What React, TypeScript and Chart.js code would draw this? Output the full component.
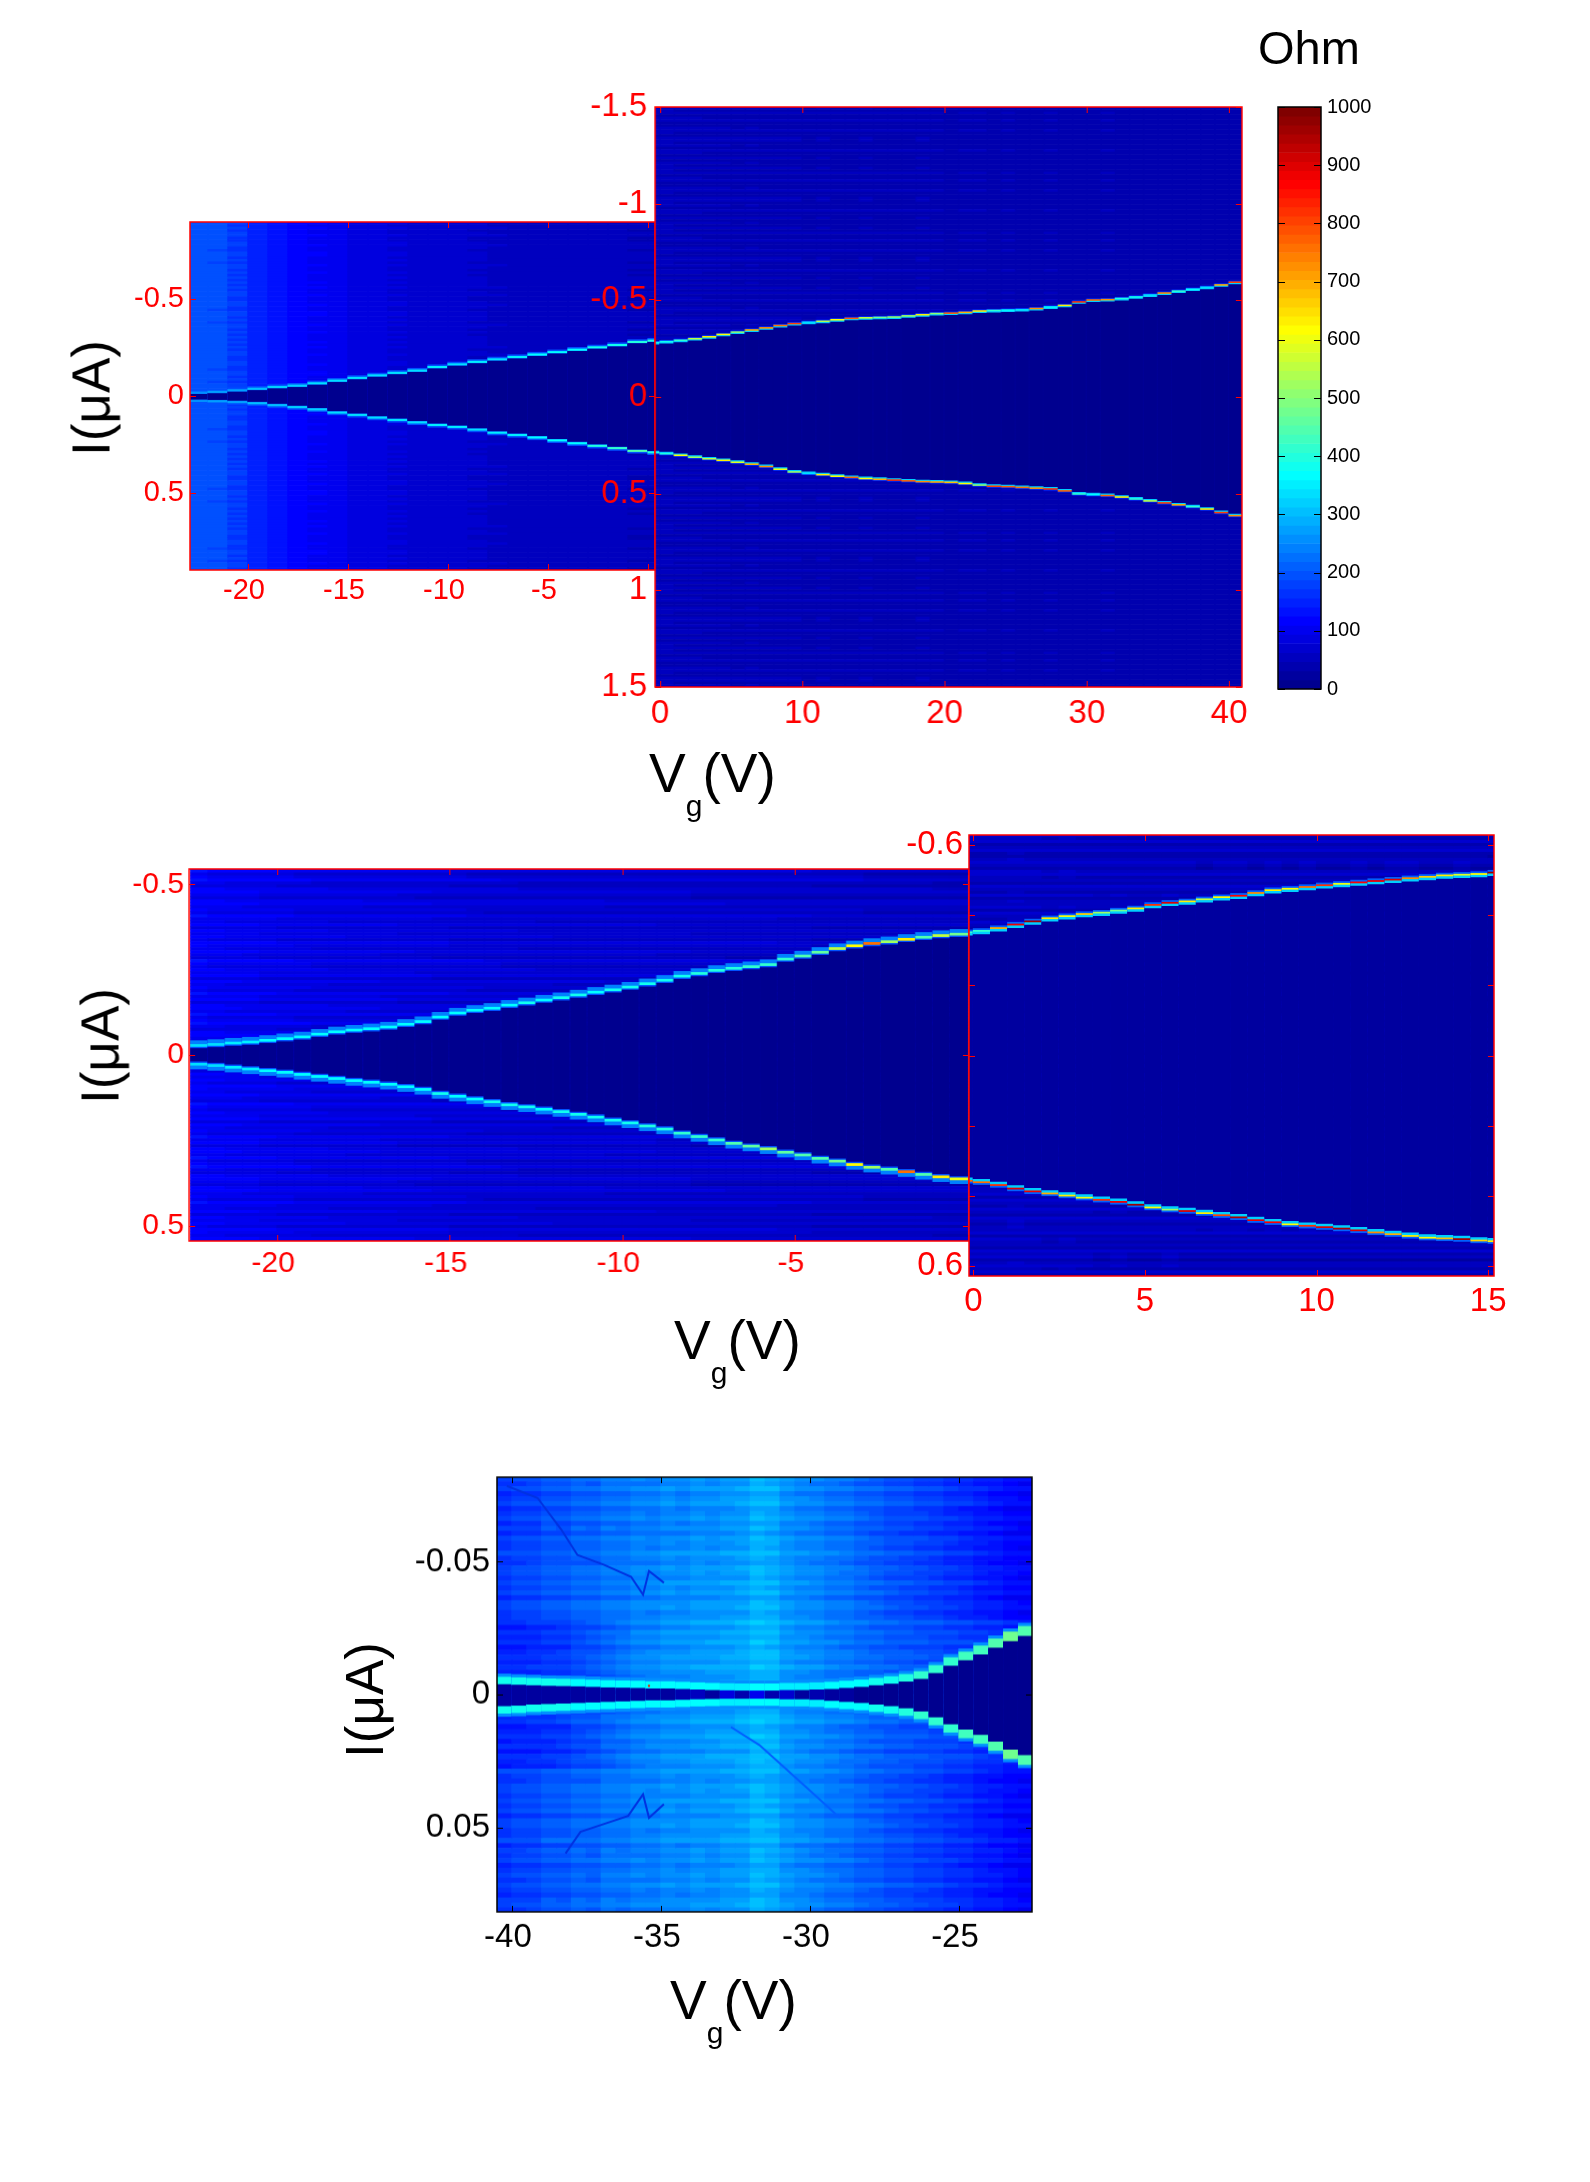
import React, { useEffect, useRef } from "react";
import { Chart, registerables } from "chart.js";

Chart.register(...registerables);

const FONT = "'Liberation Sans', Arial, sans-serif";

// ---- top row, left part (Vg < 0)
const p1aCenters = [-22.5, -21.5, -20.5, -19.5, -18.5, -17.5, -16.5, -15.5, -14.5, -13.5, -12.5, -11.5, -10.5, -9.5, -8.5, -7.5, -6.5, -5.5, -4.5, -3.5, -2.5, -1.5, -0.5, 0.5];
const p1aUpper = [0.016, 0.02, 0.028, 0.036, 0.045, 0.052, 0.064, 0.078, 0.092, 0.105, 0.118, 0.13, 0.148, 0.162, 0.175, 0.188, 0.2, 0.213, 0.225, 0.238, 0.25, 0.262, 0.278, 0.285];
const p1aLower = [0.024, 0.026, 0.03, 0.036, 0.046, 0.056, 0.068, 0.084, 0.096, 0.11, 0.122, 0.135, 0.148, 0.158, 0.172, 0.188, 0.2, 0.213, 0.228, 0.243, 0.256, 0.268, 0.282, 0.29];
const p1aFar = [195, 190, 172, 150, 130, 118, 108, 98, 90, 84, 78, 74, 70, 66, 64, 60, 58, 56, 54, 52, 50, 50, 48, 48];
const p1aPeakUp = [260, 270, 280, 300, 320, 320, 330, 330, 340, 330, 340, 340, 350, 340, 350, 340, 350, 360, 360, 370, 380, 380, 400, 400];
const p1aPeakLow = [260, 270, 280, 300, 300, 320, 320, 330, 330, 340, 340, 340, 350, 350, 340, 350, 350, 360, 360, 370, 400, 420, 450, 400];
const p1Shade = [2, -1, 3, -2, 0, 3, -2, -2, 1, 3, -1, -3, 2, 2, -1, 1, -3, 3, 0, -2, 2, -2, 1, -1];

// ---- top row, right part (Vg > 0)
const p1bCenters = [-0.5, 0.5, 1.5, 2.5, 3.5, 4.5, 5.5, 6.5, 7.5, 8.5, 9.5, 10.5, 11.5, 12.5, 13.5, 14.5, 15.5, 16.5, 17.5, 18.5, 19.5, 20.5, 21.5, 22.5, 23.5, 24.5, 25.5, 26.5, 27.5, 28.5, 29.5, 30.5, 31.5, 32.5, 33.5, 34.5, 35.5, 36.5, 37.5, 38.5, 39.5, 40.5];
const p1bUpper = [0.28, 0.285, 0.292, 0.3, 0.31, 0.322, 0.334, 0.345, 0.356, 0.368, 0.378, 0.385, 0.39, 0.398, 0.405, 0.408, 0.41, 0.412, 0.418, 0.424, 0.43, 0.432, 0.436, 0.443, 0.446, 0.448, 0.45, 0.456, 0.464, 0.472, 0.49, 0.5, 0.502, 0.508, 0.516, 0.526, 0.536, 0.546, 0.556, 0.566, 0.578, 0.592];
const p1bLower = [0.286, 0.292, 0.3, 0.31, 0.318, 0.326, 0.336, 0.346, 0.358, 0.372, 0.386, 0.394, 0.4, 0.408, 0.414, 0.42, 0.424, 0.428, 0.432, 0.436, 0.438, 0.44, 0.446, 0.454, 0.46, 0.462, 0.466, 0.47, 0.474, 0.484, 0.5, 0.504, 0.508, 0.516, 0.526, 0.536, 0.546, 0.556, 0.566, 0.578, 0.596, 0.612];
const p1bFar = [48, 48, 47, 47, 46, 46, 45, 46, 45, 45, 45, 44, 45, 44, 44, 45, 44, 44, 44, 45, 44, 43, 44, 44, 43, 44, 43, 43, 44, 43, 43, 43, 44, 43, 43, 43, 42, 43, 42, 43, 42, 42];
const p1bPeakUp = [380, 380, 420, 560, 640, 620, 500, 700, 720, 760, 800, 330, 540, 620, 780, 560, 480, 500, 520, 640, 500, 780, 700, 640, 420, 360, 340, 720, 360, 640, 820, 760, 720, 400, 380, 340, 720, 420, 360, 330, 700, 800];
const p1bPeakLow = [400, 400, 620, 520, 560, 640, 580, 700, 720, 600, 520, 340, 640, 620, 780, 620, 700, 820, 780, 720, 700, 680, 620, 500, 800, 780, 760, 720, 820, 780, 420, 360, 780, 640, 420, 560, 800, 700, 420, 640, 800, 720];

// ---- middle row, left part
const p2aCenters = [-22.25, -21.75, -21.25, -20.75, -20.25, -19.75, -19.25, -18.75, -18.25, -17.75, -17.25, -16.75, -16.25, -15.75, -15.25, -14.75, -14.25, -13.75, -13.25, -12.75, -12.25, -11.75, -11.25, -10.75, -10.25, -9.75, -9.25, -8.75, -8.25, -7.75, -7.25, -6.75, -6.25, -5.75, -5.25, -4.75, -4.25, -3.75, -3.25, -2.75, -2.25, -1.75, -1.25, -0.75, -0.25];
const p2aUpper = [0.027, 0.03, 0.034, 0.037, 0.042, 0.047, 0.052, 0.06, 0.067, 0.072, 0.076, 0.081, 0.089, 0.097, 0.11, 0.122, 0.13, 0.136, 0.145, 0.152, 0.16, 0.167, 0.175, 0.183, 0.19, 0.198, 0.208, 0.218, 0.23, 0.238, 0.247, 0.253, 0.258, 0.264, 0.28, 0.289, 0.3, 0.311, 0.319, 0.326, 0.331, 0.338, 0.344, 0.349, 0.353];
const p2aLower = [0.026, 0.03, 0.035, 0.04, 0.045, 0.05, 0.056, 0.062, 0.068, 0.074, 0.079, 0.085, 0.092, 0.1, 0.112, 0.12, 0.128, 0.136, 0.145, 0.151, 0.158, 0.165, 0.173, 0.181, 0.19, 0.198, 0.207, 0.216, 0.228, 0.238, 0.248, 0.258, 0.266, 0.274, 0.284, 0.292, 0.302, 0.31, 0.32, 0.328, 0.334, 0.341, 0.349, 0.356, 0.362];
const p2aFar = [108, 104, 100, 98, 94, 92, 90, 88, 86, 85, 84, 82, 81, 80, 78, 76, 75, 74, 73, 72, 71, 70, 70, 70, 68, 68, 68, 66, 66, 64, 64, 63, 63, 63, 62, 62, 60, 60, 60, 58, 58, 58, 58, 56, 56];
const p2aPeakUp = [330, 340, 350, 350, 360, 360, 360, 360, 370, 360, 360, 360, 370, 370, 370, 360, 370, 370, 370, 380, 370, 380, 380, 370, 380, 380, 390, 390, 390, 400, 400, 400, 410, 420, 420, 440, 460, 560, 620, 760, 520, 640, 440, 560, 480];
const p2aPeakLow = [330, 330, 350, 350, 360, 360, 360, 370, 360, 360, 370, 370, 370, 370, 380, 370, 370, 380, 380, 380, 370, 380, 390, 380, 390, 390, 400, 400, 410, 410, 420, 440, 460, 520, 460, 440, 440, 480, 620, 520, 440, 760, 440, 640, 600];
const p2Shade = [11, -7, 17, -13, 3, 20, -10, -15, 6, 14, -3, -18, 9, 15, -6, 3, -12, 18, 0, -9, 12, -15, 6, -3, 8, -14, 16, 2, -10, 13, -5, -17, 19, 5, -11, 7, -2, 15, -16, 10, -8, 4, -13, 17, -4, 12, -19, 6];

// ---- middle row, right part
const p2bCenters = [-0.25, 0.25, 0.75, 1.25, 1.75, 2.25, 2.75, 3.25, 3.75, 4.25, 4.75, 5.25, 5.75, 6.25, 6.75, 7.25, 7.75, 8.25, 8.75, 9.25, 9.75, 10.25, 10.75, 11.25, 11.75, 12.25, 12.75, 13.25, 13.75, 14.25, 14.75, 15.25];
const p2bUpper = [0.35, 0.354, 0.362, 0.372, 0.381, 0.39, 0.396, 0.402, 0.406, 0.412, 0.418, 0.428, 0.434, 0.438, 0.444, 0.45, 0.454, 0.462, 0.47, 0.474, 0.479, 0.484, 0.488, 0.492, 0.496, 0.5, 0.504, 0.508, 0.512, 0.514, 0.516, 0.52];
const p2bLower = [0.356, 0.36, 0.368, 0.378, 0.386, 0.392, 0.398, 0.404, 0.41, 0.416, 0.424, 0.432, 0.438, 0.442, 0.448, 0.454, 0.46, 0.468, 0.474, 0.48, 0.484, 0.488, 0.492, 0.497, 0.503, 0.508, 0.513, 0.518, 0.52, 0.522, 0.526, 0.528];
const p2bFar = [55, 55, 55, 58, 55, 52, 55, 52, 50, 52, 50, 50, 52, 50, 48, 50, 50, 48, 50, 48, 50, 48, 48, 50, 48, 50, 50, 48, 48, 50, 48, 46];
const p2bPeakUp = [420, 420, 700, 880, 960, 640, 600, 660, 520, 480, 640, 820, 900, 640, 560, 620, 860, 720, 640, 620, 760, 820, 600, 860, 880, 900, 720, 660, 640, 580, 620, 980];
const p2bPeakLow = [760, 760, 820, 900, 880, 700, 640, 600, 820, 880, 960, 620, 520, 900, 640, 800, 940, 880, 860, 620, 820, 900, 940, 900, 720, 700, 640, 620, 680, 960, 660, 640];

// ---- bottom panel
const p3Centers = [-40.25, -39.75, -39.25, -38.75, -38.25, -37.75, -37.25, -36.75, -36.25, -35.75, -35.25, -34.75, -34.25, -33.75, -33.25, -32.75, -32.25, -31.75, -31.25, -30.75, -30.25, -29.75, -29.25, -28.75, -28.25, -27.75, -27.25, -26.75, -26.25, -25.75, -25.25, -24.75, -24.25, -23.75, -23.25, -22.75];
const p3Far = [165, 178, 180, 198, 196, 212, 208, 228, 226, 240, 236, 250, 244, 258, 252, 262, 268, 290, 282, 258, 246, 240, 226, 224, 208, 204, 190, 188, 176, 172, 160, 154, 142, 134, 122, 114];
const p3Mid = [172, 184, 186, 202, 202, 216, 216, 232, 232, 246, 244, 256, 252, 264, 260, 268, 272, 294, 286, 264, 252, 246, 234, 230, 216, 208, 194, 190, 180, 174, 162, 158, 144, 136, 124, 116];
const p3Near = [150, 152, 156, 164, 170, 186, 196, 214, 226, 242, 246, 258, 258, 266, 270, 276, 280, 300, 294, 268, 256, 250, 238, 232, 220, 212, 204, 200, 194, 190, 182, 176, 164, 156, 146, 136];
const p3Inner = [0.0038, 0.0036, 0.0034, 0.0032, 0.0031, 0.003, 0.0028, 0.0026, 0.0025, 0.0024, 0.0022, 0.0022, 0.002, 0.0018, 0.0016, 0.0015, 0.0014, 0.0014, 0.0014, 0.0016, 0.0016, 0.0018, 0.002, 0.0024, 0.0028, 0.0034, 0.004, 0.0048, 0.0058, 0.008, 0.0108, 0.0128, 0.015, 0.0175, 0.02, 0.022];
const p3InnerLow = [0.0042, 0.004, 0.0036, 0.0034, 0.0032, 0.003, 0.0028, 0.0026, 0.0024, 0.0022, 0.002, 0.002, 0.0018, 0.0016, 0.0015, 0.0014, 0.0014, 0.0014, 0.0014, 0.0016, 0.0016, 0.0018, 0.0022, 0.0026, 0.003, 0.0036, 0.0042, 0.005, 0.0062, 0.0084, 0.011, 0.013, 0.015, 0.0175, 0.0205, 0.0226];
const p3Peak = [380, 380, 375, 375, 375, 370, 370, 370, 365, 365, 365, 365, 360, 360, 360, 355, 355, 370, 370, 355, 355, 355, 360, 365, 370, 380, 390, 400, 410, 420, 420, 430, 430, 440, 470, 450];
const p3Gap = [30, 26, 22, 22, 20, 20, 20, 20, 20, 24, 24, 28, 40, 60, 30, 90, 35, 95, 40, 75, 30, 45, 25, 20, 15, 12, 10, 8, 5, 4, 4, 4, 4, 4, 4, 4];
const p3BandEdges = [0.055, 0.028];
const p3RowShade = [11, -7, 16, -12, 5, 18, -14, -4, 13, -10, 7, -17, 12, 2, -11, 16, -6, -13, 10, 4, -8, 14, -5, 12, -16, 6, 11, -10, -2, 17, -12, 8, -6, 13, -14, 4, 10, -7, 16, -4, -11, 7, 14, -8];

const p3DarkUpV = [-40.17, -39.14, -38.35, -37.8, -36.9, -36, -35.6, -35.4, -34.9];
const p3DarkUpI = [-0.0785, -0.074, -0.0622, -0.0525, -0.0488, -0.0443, -0.0376, -0.0465, -0.0421];
const p3DarkLowV = [-38.2, -37.7, -36.9, -36.1, -35.6, -35.4, -34.9];
const p3DarkLowI = [0.0597, 0.0516, 0.0486, 0.0456, 0.0375, 0.0463, 0.0412];
const p3DarkMidV = [-32.65, -31.7, -30.2, -29];
const p3DarkMidI = [0.0122, 0.0189, 0.034, 0.0463];
const p3SpikeV = [-35.4];
const p3SpikeI = [-0.0033];

// ---- colour bar
const barTicks = [0, 100, 200, 300, 400, 500, 600, 700, 800, 900, 1000];
const JET_LEVELS = 64;

// MATLAB jet(64)
function jet(v: number) {
    const idx = Math.min(JET_LEVELS - 1, Math.max(0, Math.floor((v / 1000) * JET_LEVELS)));
    const t = (idx + 1) / JET_LEVELS;
    const c = (a: number) => Math.round(255 * Math.min(1, Math.max(0, a)));
    return `rgb(${c(Math.min(4 * t - 1.5, -4 * t + 4.5))},${c(Math.min(4 * t - 0.5, -4 * t + 3.5))},${c(Math.min(4 * t + 0.5, -4 * t + 2.5))})`;
}

type Cell = { x: number; lo: number; hi: number; v: number };

// one column = shaded background rows, then halo / peak / inner stripes, then the dark gap on top
function ridgeCells(centers: number[], upper: number[], lower: number[], far: number[], peakUp: number[], peakLow: number[], s: any) {
    const cells: Cell[] = [];
    const dy = (2 * s.yMax) / s.rows;
    centers.forEach((x, i) => {
        const u = upper[i];
        const l = lower[i];
        for (let r = 0; r < s.rows; r++) {
            cells.push({ x, lo: -s.yMax + r * dy, hi: -s.yMax + (r + 1) * dy, v: far[i] + s.shade[r % s.shade.length] });
        }
        cells.push({ x, lo: -u - s.peak / 2 - s.halo, hi: -u - s.peak / 2, v: s.haloV });
        cells.push({ x, lo: l + s.peak / 2, hi: l + s.peak / 2 + s.halo, v: s.haloV });
        cells.push({ x, lo: -u - s.peak / 2, hi: -u + s.peak / 2, v: peakUp[i] });
        cells.push({ x, lo: l - s.peak / 2, hi: l + s.peak / 2, v: peakLow[i] });
        cells.push({ x, lo: -u + s.peak / 2, hi: -u + s.peak / 2 + s.inner, v: s.innerV });
        cells.push({ x, lo: l - s.peak / 2 - s.inner, hi: l - s.peak / 2, v: s.innerV });
        cells.push({ x, lo: -u + s.peak / 2 + s.inner, hi: l - s.peak / 2 - s.inner, v: s.gap });
    });
    return cells;
}

function bottomCells() {
    const cells: Cell[] = [];
    const yMax = 0.082;
    const rows = p3RowShade.length * 2;
    const dy = (2 * yMax) / rows;
    p3Centers.forEach((x, i) => {
        for (let r = 0; r < rows; r++) {
            const lo = -yMax + r * dy;
            const mid = Math.abs(lo + dy / 2);
            const band = mid > p3BandEdges[0] ? p3Far : mid > p3BandEdges[1] ? p3Mid : p3Near;
            cells.push({ x, lo, hi: lo + dy, v: band[i] + p3RowShade[r % p3RowShade.length] });
        }
        const u = p3Inner[i];
        const l = p3InnerLow[i];
        const w = 0.0026 + u * 0.05;
        cells.push({ x, lo: -u - w - 0.0012, hi: -u - w, v: 265 });
        cells.push({ x, lo: l + w, hi: l + w + 0.0012, v: 265 });
        cells.push({ x, lo: -u - w, hi: -u, v: p3Peak[i] });
        cells.push({ x, lo: l, hi: l + w, v: p3Peak[i] });
        cells.push({ x, lo: -u, hi: l, v: p3Gap[i] });
    });
    return cells;
}

function barCells() {
    const cells: Cell[] = [];
    for (let k = 0; k < JET_LEVELS; k++) {
        cells.push({ x: 0.5, lo: (k / JET_LEVELS) * 1000, hi: ((k + 1) / JET_LEVELS) * 1000, v: ((k + 0.5) / JET_LEVELS) * 1000 });
    }
    return cells;
}

const toPoints = (xs: number[], ys: number[]) => xs.map((x, i) => ({ x, y: ys[i] }));

function frameAndTicks(color: string, tickLen: number, bothX = true) {
    return {
        id: "frame",
        afterDatasetsDraw(chart: any) {
            const { ctx, chartArea: a, scales } = chart;
            ctx.save();
            ctx.strokeStyle = color;
            ctx.lineWidth = 1;
            ctx.beginPath();
            if (bothX) {
                scales.x.ticks.forEach((t: any) => {
                    const px = Math.round(scales.x.getPixelForValue(t.value)) + 0.5;
                    ctx.moveTo(px, a.top);
                    ctx.lineTo(px, a.top + tickLen);
                    ctx.moveTo(px, a.bottom);
                    ctx.lineTo(px, a.bottom - tickLen);
                });
            }
            scales.y.ticks.forEach((t: any) => {
                const py = Math.round(scales.y.getPixelForValue(t.value)) + 0.5;
                ctx.moveTo(a.left, py);
                ctx.lineTo(a.left + tickLen, py);
                ctx.moveTo(a.right, py);
                ctx.lineTo(a.right - tickLen, py);
            });
            ctx.stroke();
            ctx.lineWidth = 1.5;
            ctx.strokeRect(a.left, a.top, a.right - a.left, a.bottom - a.top);
            ctx.restore();
        },
    };
}

const MARGIN = 90;

const HeatPanel = (props: any) => {
    const canvasRef = useRef<HTMLCanvasElement | null>(null);
    const { left, top, right, bottom, xRange, yRange, xTicks, yTicks } = props;
    const width = right - left + 2 * MARGIN;
    const height = bottom - top + 2 * MARGIN;

    useEffect(() => {
        const ctx = canvasRef.current?.getContext("2d");
        if (!ctx) return;
        const color = props.color;
        const colPx = ((right - left) / (xRange[1] - xRange[0])) * props.colWidth;
        const onRight = props.yPosition === "right";
        const showX = props.showX !== false;
        const chart = new Chart(ctx, {
            type: "bar",
            data: {
                datasets: [
                    {
                        order: 2,
                        data: props.cells.map((c: Cell) => ({ x: c.x, y: [c.lo, c.hi] })),
                        backgroundColor: props.cells.map((c: Cell) => jet(c.v)),
                        borderWidth: 0,
                        borderSkipped: false,
                        barThickness: colPx + 0.6,
                        grouped: false,
                    } as any,
                    ...(props.extra || []),
                ],
            },
            options: {
                animation: false,
                responsive: false,
                devicePixelRatio: 1,
                events: [],
                // the axes own the margins, so the plot rectangle lands exactly where it should
                layout: { padding: { left: onRight ? MARGIN : 0, right: onRight ? 0 : MARGIN, top: MARGIN, bottom: 0 } },
                plugins: { legend: { display: false }, title: { display: false }, tooltip: { enabled: false } },
                scales: {
                    x: {
                        type: "linear",
                        display: showX ? true : false,
                        offset: false,
                        min: xRange[0],
                        max: xRange[1],
                        grid: { display: false, drawTicks: false },
                        border: { display: false },
                        afterBuildTicks: (s: any) => { s.ticks = xTicks.map((value: number) => ({ value })); },
                        afterFit: (s: any) => { s.height = MARGIN; },
                        ticks: {
                            autoSkip: false,
                            minRotation: 0,
                            maxRotation: 0,
                            color,
                            font: { family: FONT, size: props.fontSize },
                            padding: props.xPad,
                            labelOffset: props.xShift || 0,
                            callback: (v: any) => (props.hideX?.includes(v) ? "" : String(v)),
                        },
                    },
                    y: {
                        type: "linear",
                        position: props.yPosition || "left",
                        reverse: props.reverse !== false,
                        min: yRange[0],
                        max: yRange[1],
                        grid: { display: false, drawTicks: false },
                        border: { display: false },
                        afterBuildTicks: (s: any) => { s.ticks = yTicks.map((value: number) => ({ value })); },
                        afterFit: (s: any) => { s.width = MARGIN; },
                        ticks: {
                            autoSkip: false,
                            color,
                            font: { family: FONT, size: props.yFontSize || props.fontSize },
                            padding: props.yPad,
                            callback: (v: any) => (props.hideY?.includes(v) ? "" : String(v)),
                        },
                    },
                } as any,
            },
            plugins: [frameAndTicks(color, props.tickLen || 6, showX)],
        } as any);
        return () => {
            chart.destroy();
        };
    }, []);

    return (
        <canvas
            ref={canvasRef}
            width={width}
            height={height}
            style={{ position: "absolute", left: left - MARGIN, top: top - MARGIN, width, height }}
        />
    );
};

const VgLabel = ({ x, baseline }: { x: number; baseline: number }) => (
    <div style={{ position: "absolute", left: x, top: baseline - 46, font: `55px/55px ${FONT}`, whiteSpace: "nowrap", color: "#000" }}>
        V<span style={{ fontSize: 30, position: "relative", top: 24 }}>g</span>(V)
    </div>
);

const ILabel = ({ cx, cy }: { cx: number; cy: number }) => (
    <div
        style={{
            position: "absolute",
            left: cx,
            top: cy,
            font: `53px/53px ${FONT}`,
            whiteSpace: "nowrap",
            color: "#000",
            transform: "translate(-50%, -50%) rotate(-90deg)",
        }}
    >
        I(μA)
    </div>
);

const darkLine = (xs: number[], ys: number[], color: string, w: number) => ({
    type: "line",
    order: 1,
    data: toPoints(xs, ys),
    borderColor: color,
    borderWidth: w,
    pointRadius: 0,
    tension: 0,
});

const bottomExtra = [
    darkLine(p3DarkUpV, p3DarkUpI, "rgb(0,50,225)", 2),
    darkLine(p3DarkLowV, p3DarkLowI, "rgb(0,50,225)", 2),
    darkLine(p3DarkMidV, p3DarkMidI, "rgb(0,95,255)", 2),
    {
        type: "line",
        order: 0,
        data: toPoints(p3SpikeV, p3SpikeI),
        showLine: false,
        pointStyle: "rect",
        pointRadius: 1.5,
        pointBorderWidth: 0,
        pointBackgroundColor: "rgb(230,40,0)",
    },
];

const style1a = { yMax: 0.9, rows: 140, shade: p1Shade, peak: 0.011, halo: 0.008, haloV: 190, inner: 0.002, innerV: 220, gap: 4 };
const style1b = { yMax: 1.5, rows: 232, shade: p1Shade, peak: 0.008, halo: 0.004, haloV: 170, inner: 0.006, innerV: 320, gap: 4 };
const style2a = { yMax: 0.56, rows: 128, shade: p2Shade, peak: 0.008, halo: 0.011, haloV: 240, inner: 0.004, innerV: 190, gap: 12 };
const style2b = { yMax: 0.63, rows: 148, shade: p2Shade, peak: 0.005, halo: 0.005, haloV: 210, inner: 0.007, innerV: 320, gap: 18 };

const App = () => (
    <div style={{ position: "absolute", left: 0, top: 0, width: 1590, height: 2182, overflow: "hidden", background: "#fff" }}>
        <HeatPanel
            left={189.5} right={655} top={222.4} bottom={570.4}
            xRange={[-22.9, 0.35]} yRange={[-0.9, 0.9]}
            xTicks={[-20, -15, -10, -5, 0]} yTicks={[-0.5, 0, 0.5]} hideX={[0]}
            colWidth={1} color="#ff0000" fontSize={29} xPad={4} yPad={6} xShift={-4}
            cells={ridgeCells(p1aCenters, p1aUpper, p1aLower, p1aFar, p1aPeakUp, p1aPeakLow, style1a)}
        />
        <HeatPanel
            left={655} right={1241.5} top={106.6} bottom={687}
            xRange={[-0.35, 40.9]} yRange={[-1.5, 1.5]}
            xTicks={[0, 10, 20, 30, 40]} yTicks={[-1.5, -1, -0.5, 0, 0.5, 1, 1.5]}
            colWidth={1} color="#ff0000" fontSize={33} xPad={7} yPad={8}
            cells={ridgeCells(p1bCenters, p1bUpper, p1bLower, p1bFar, p1bPeakUp, p1bPeakLow, style1b)}
        />
        <HeatPanel
            left={1278} right={1321.4} top={106.6} bottom={688.8}
            xRange={[0, 1]} yRange={[0, 1000]} reverse={false} showX={false}
            xTicks={[]} yTicks={barTicks} yPosition="right"
            colWidth={1} color="#000000" fontSize={20} yPad={6} xPad={0} tickLen={7}
            cells={barCells()}
        />
        <HeatPanel
            left={189.3} right={969} top={868.6} bottom={1241.3}
            xRange={[-22.55, 0.04]} yRange={[-0.545, 0.545]}
            xTicks={[-20, -15, -10, -5, 0]} yTicks={[-0.5, 0, 0.5]} hideX={[0]}
            colWidth={0.5} color="#ff0000" fontSize={30} xPad={5} yPad={5} xShift={-4}
            cells={ridgeCells(p2aCenters, p2aUpper, p2aLower, p2aFar, p2aPeakUp, p2aPeakLow, style2a)}
        />
        <HeatPanel
            left={969} right={1494} top={834.5} bottom={1275.7}
            xRange={[-0.13, 15.17]} yRange={[-0.628, 0.628]}
            xTicks={[0, 5, 10, 15]} yTicks={[-0.6, -0.4, -0.2, 0, 0.2, 0.4, 0.6]} hideY={[-0.4, -0.2, 0, 0.2, 0.4]}
            colWidth={0.5} color="#ff0000" fontSize={33} xPad={6} yPad={6}
            cells={ridgeCells(p2bCenters, p2bUpper, p2bLower, p2bFar, p2bPeakUp, p2bPeakLow, style2b)}
        />
        <HeatPanel
            left={496.5} right={1031.7} top={1477.3} bottom={1912.2}
            xRange={[-40.5, -22.55]} yRange={[-0.0818, 0.0817]}
            xTicks={[-40, -35, -30, -25]} yTicks={[-0.05, 0, 0.05]}
            colWidth={0.5} color="#000000" fontSize={33} xPad={6} yPad={7} xShift={-4}
            cells={bottomCells()} extra={bottomExtra}
        />
        <div style={{ position: "absolute", left: 1258, top: 24, font: `47px/47px ${FONT}`, color: "#000" }}>Ohm</div>
        <VgLabel x={649} baseline={792} />
        <VgLabel x={674} baseline={1359} />
        <VgLabel x={670} baseline={2019} />
        <ILabel cx={91} cy={398} />
        <ILabel cx={100} cy={1046} />
        <ILabel cx={364} cy={1700} />
    </div>
);

export default App;
